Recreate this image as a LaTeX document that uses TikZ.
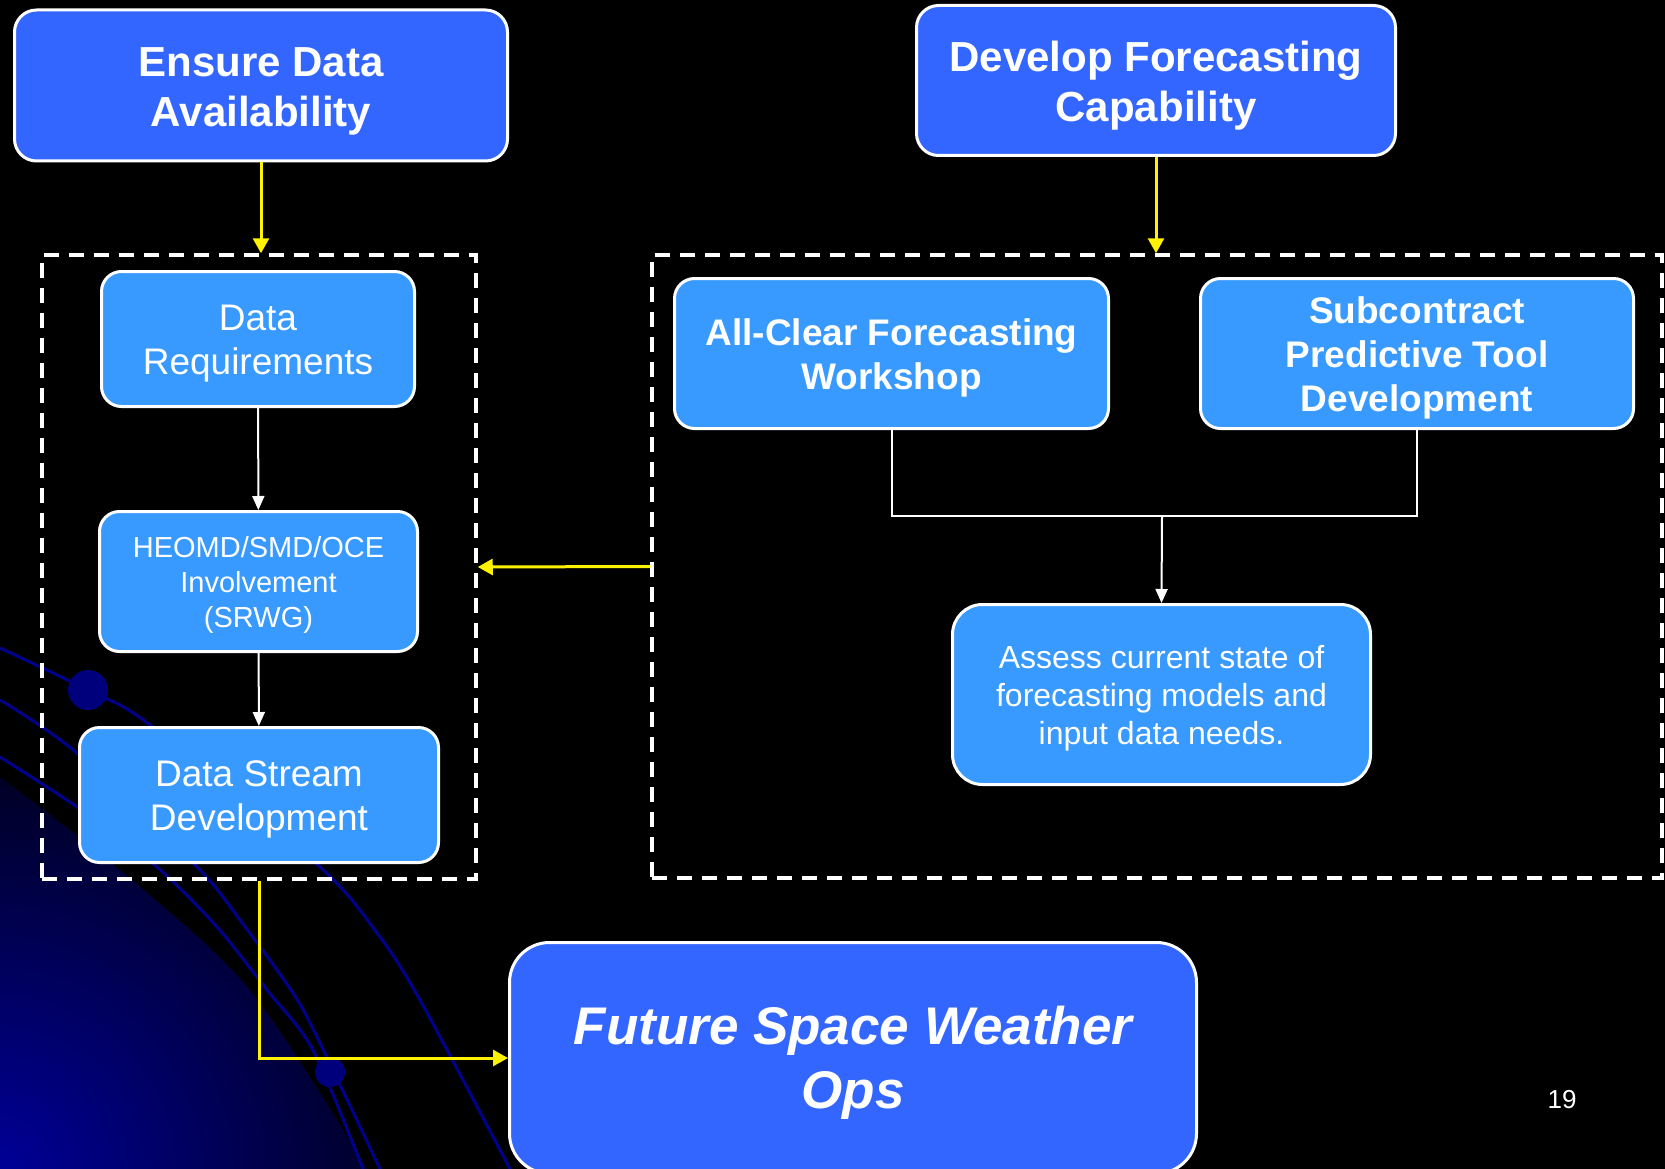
\documentclass[tikz,border=0pt]{standalone}
\usepackage{fontspec}
\setmainfont{Liberation Sans}
\usetikzlibrary{arrows.meta}

\definecolor{topblue}{RGB}{51,102,255}
\definecolor{boxblue}{RGB}{56,153,255}
\definecolor{arcblue}{RGB}{0,0,140}
\definecolor{dotblue}{RGB}{0,0,125}
\definecolor{cornerblue}{RGB}{0,0,155}

\begin{document}
\begin{tikzpicture}[x=1pt, y=-1pt, line width=3pt,
    padtop/.style={execute at begin node={\rule{0pt}{#1}}},
    goal/.style={draw=white, fill=topblue, rounded corners=22pt, text=white, align=center, inner sep=0pt, padtop=90pt,
      font=\bfseries\fontsize{42}{50}\selectfont},
    task/.style={draw=white, fill=boxblue, rounded corners=20pt, text=white, align=center, inner sep=0pt, padtop=79pt},
    group/.style={draw=white, line width=3.5pt, dash pattern=on 15pt off 10pt, inner sep=0pt},
    link/.style={draw=yellow, line width=3pt, -{Triangle[length=15pt,width=16pt]}},
    flow/.style={draw=white, line width=2pt, -{Triangle[length=14pt,width=12pt]}}]
    \useasboundingbox (0,0) rectangle (1665,1169);
    \clip (0,0) rectangle (1665,1169);
    % Background
    \fill[black] (0,0) rectangle (1665,1169);
    \begin{scope}
      \clip plot[smooth] coordinates {(0,777) (120,870) (250,990) (367,1169)} -- (0,1169) -- cycle;
      \shade[inner color=cornerblue, outer color=black] (-10,1180) circle (530pt);
    \end{scope}
    \draw[arcblue] plot[smooth] coordinates {(0,648) (88,690) (150,725) (320,867) (377,933) (420,1000) (510,1169)};
    \draw[arcblue] plot[smooth] coordinates {(0,700) (77,753) (197,867) (240,920) (293,993) (320,1043) (380,1169)};
    \draw[arcblue] plot[smooth] coordinates {(0,757) (77,807) (157,867) (217,927) (267,990) (313,1050) (363,1169)};
    \fill[dotblue] (88,690) circle (20pt);
    \fill[dotblue] (330,1072) circle (15pt);
    % Nodes
    \node[goal, minimum width=493pt, minimum height=151pt] (ensure) at (261,85.5) {Ensure Data\\Availability};
    \node[goal, minimum width=479pt, minimum height=150pt] (develop) at (1156,80.5) {Develop Forecasting\\Capability};
    \node[group, minimum width=434pt, minimum height=624pt] (leftgrp) at (259,567) {};
    \node[group, minimum width=1010pt, minimum height=623pt] (rightgrp) at (1157,566.5) {};
    \node[task, minimum width=313pt, minimum height=135pt, font=\fontsize{37}{44}\selectfont] (datareq) at (258,339) {Data\\Requirements};
    \node[task, padtop=97.5pt, minimum width=318pt, minimum height=140pt, font=\fontsize{29}{35}\selectfont] (heomd) at (258.5,581.5) {HEOMD/SMD/OCE\\Involvement\\(SRWG)};
    \node[task, minimum width=359pt, minimum height=135pt, font=\fontsize{37}{44}\selectfont] (stream) at (259,795) {Data Stream\\Development};
    \node[task, minimum width=434pt, minimum height=150pt, font=\bfseries\fontsize{37}{44}\selectfont] (allclear) at (891.5,353.5) {All-Clear Forecasting\\Workshop};
    \node[task, padtop=123pt, minimum width=433pt, minimum height=150pt, font=\bfseries\fontsize{37}{44}\selectfont] (subcon) at (1417,353.5) {Subcontract\\Predictive Tool\\Development};
    \node[task, padtop=106.5pt, rounded corners=30pt, minimum width=418pt, minimum height=180pt, font=\fontsize{32}{38}\selectfont] (assess) at (1161.5,694.5) {Assess current state of\\forecasting models and\\input data needs.};
    \node[goal, padtop=111pt, rounded corners=40pt, minimum width=687pt, minimum height=231pt, font=\bfseries\itshape\fontsize{53}{64}\selectfont] (future) at (853,1058) {Future Space Weather\\Ops};
    \node[text=white, font=\fontsize{26}{30}\selectfont] (pagenum) at (1562,1100) {19};
    \coordinate (join) at (1162,516);
    % Connectors
    \draw[link] (ensure.south) -- (ensure.south |- leftgrp.north);
    \draw[link] (develop.south) -- (develop.south |- rightgrp.north);
    \draw[link] (rightgrp.west) -- (leftgrp.east);
    \draw[link] (leftgrp.south) |- (future.west);
    \draw[flow] (datareq) -- (heomd);
    \draw[flow] (heomd) -- (stream);
    \draw[white, line width=2pt] (allclear.south) |- (join) -| (subcon.south);
    \draw[flow] (join) -- (assess.north);
\end{tikzpicture}
\end{document}
